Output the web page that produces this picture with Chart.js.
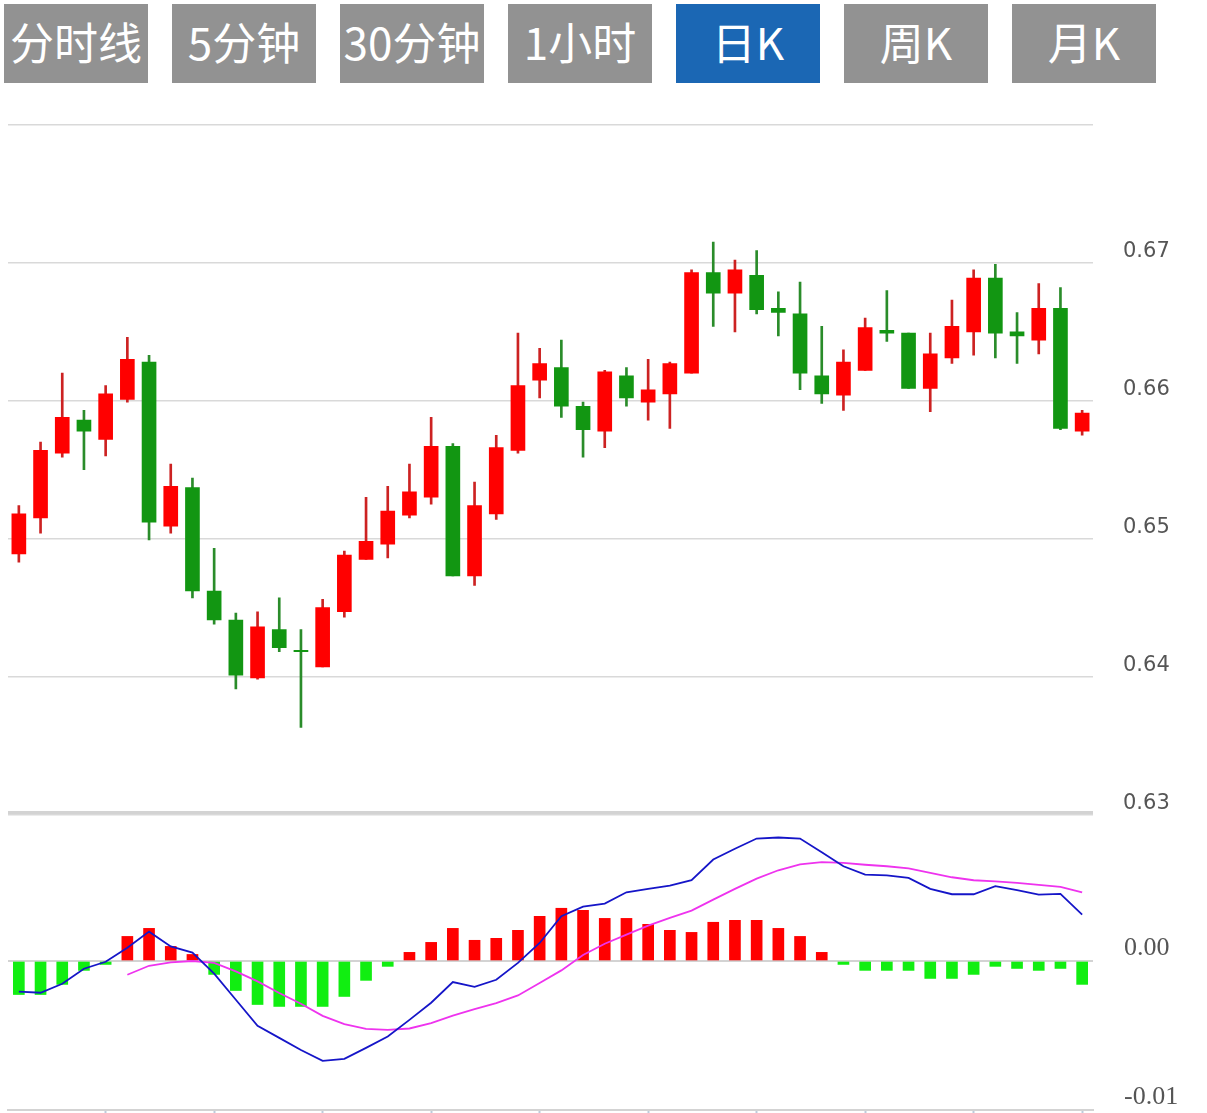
<!DOCTYPE html>
<html>
<head>
<meta charset="utf-8">
<script src="https://cdn.jsdelivr.net/npm/chart.js@4.4.1/dist/chart.umd.min.js"></script>
<style>
    body {
        margin: 0;
        background: #fff;
        width: 1207px;
        height: 1113px;
        overflow: hidden;
        position: relative;
        font-family: "Noto Sans CJK SC", sans-serif;
    }
    .tab {
        position: absolute;
        top: 4px;
        width: 144px;
        height: 79px;
        background: #929292;
        color: #fff;
        font-size: 44px;
        display: flex;
        align-items: center;
        justify-content: center;
        box-sizing: border-box;
        padding-bottom: 5px;
    }
    .tab.active {
        background: #1b67b4;
    }
    #kline-box {
        position: absolute;
        left: 0;
        top: 102px;
        width: 1207px;
        height: 725px;
    }
    #macd-box {
        position: absolute;
        left: 0;
        top: 790px;
        width: 1207px;
        height: 340px;
    }
</style>
</head>
<body>
<div class="tab" style="left:4px">分时线</div>
<div class="tab" style="left:172px">5分钟</div>
<div class="tab" style="left:340px">30分钟</div>
<div class="tab" style="left:508px">1小时</div>
<div class="tab active" style="left:676px">日K</div>
<div class="tab" style="left:844px">周K</div>
<div class="tab" style="left:1012px">月K</div>

<div id="kline-box"><canvas id="kline"></canvas></div>
<div id="macd-box"><canvas id="macd"></canvas></div>

<script>
    // daily candles, oldest first
    const opens = [0.6489, 0.6515, 0.6562, 0.6586, 0.6572, 0.6601, 0.6628, 0.6509, 0.6537, 0.6462,
        0.6441, 0.6399, 0.6434, 0.6419, 0.6407, 0.6447, 0.6485, 0.6496, 0.6517, 0.6530,
        0.6567, 0.6473, 0.6518, 0.6564, 0.6615, 0.6624, 0.6596, 0.6578, 0.6618, 0.6599,
        0.6605, 0.6620, 0.6693, 0.6678, 0.6691, 0.6667, 0.6663, 0.6618, 0.6604, 0.6622,
        0.6651, 0.6649, 0.6609, 0.6631, 0.6650, 0.6689, 0.6650, 0.6644, 0.6667, 0.6578];
    const closes = [0.6518, 0.6564, 0.6588, 0.6578, 0.6605, 0.6630, 0.6512, 0.6538, 0.6462, 0.6441,
        0.6401, 0.6436, 0.6421, 0.6418, 0.6450, 0.6488, 0.6498, 0.6520, 0.6534, 0.6567,
        0.6473, 0.6524, 0.6566, 0.6611, 0.6627, 0.6596, 0.6579, 0.6621, 0.6602, 0.6608,
        0.6627, 0.6693, 0.6678, 0.6695, 0.6666, 0.6664, 0.6620, 0.6605, 0.6628, 0.6653,
        0.6649, 0.6609, 0.6634, 0.6654, 0.6689, 0.6649, 0.6647, 0.6667, 0.6580, 0.6591];
    const highs = [0.6524, 0.6570, 0.6620, 0.6593, 0.6611, 0.6646, 0.6633, 0.6554, 0.6544, 0.6493,
        0.6446, 0.6447, 0.6457, 0.6434, 0.6456, 0.6491, 0.6530, 0.6538, 0.6554, 0.6588,
        0.6569, 0.6541, 0.6575, 0.6649, 0.6638, 0.6644, 0.6599, 0.6622, 0.6624, 0.6630,
        0.6628, 0.6695, 0.6715, 0.6702, 0.6709, 0.6679, 0.6686, 0.6654, 0.6637, 0.6660,
        0.6680, 0.6649, 0.6649, 0.6673, 0.6695, 0.6699, 0.6664, 0.6685, 0.6682, 0.6593];
    const lows = [0.6483, 0.6504, 0.6559, 0.6550, 0.6560, 0.6599, 0.6499, 0.6504, 0.6457, 0.6438,
        0.6391, 0.6398, 0.6418, 0.6363, 0.6407, 0.6443, 0.6485, 0.6486, 0.6515, 0.6525,
        0.6473, 0.6466, 0.6514, 0.6562, 0.6602, 0.6588, 0.6559, 0.6566, 0.6596, 0.6586,
        0.6580, 0.6620, 0.6654, 0.6650, 0.6663, 0.6647, 0.6608, 0.6598, 0.6593, 0.6622,
        0.6643, 0.6609, 0.6592, 0.6627, 0.6633, 0.6631, 0.6627, 0.6634, 0.6579, 0.6575];

    // MACD
    const hist = [-0.00225, -0.00225, -0.00157, -0.00063, -0.00023, 0.00165, 0.00219, 0.00098, 0.00044, -0.00090,
        -0.00198, -0.00292, -0.00305, -0.00305, -0.00305, -0.00238, -0.00130, -0.00036, 0.00058, 0.00125,
        0.00219, 0.00139, 0.00152, 0.00206, 0.00300, 0.00354, 0.00340, 0.00286, 0.00286, 0.00246,
        0.00206, 0.00192, 0.00260, 0.00273, 0.00273, 0.00219, 0.00165, 0.00058, -0.00023, -0.00063,
        -0.00063, -0.00063, -0.00117, -0.00117, -0.00090, -0.00036, -0.00050, -0.00063, -0.00050, -0.00157];
    const dif = [-0.00206, -0.00213, -0.00153, -0.00052, -0.00005, 0.00089, 0.00197, 0.00098, 0.00056, -0.00085,
        -0.00260, -0.00435, -0.00516, -0.00597, -0.00670, -0.00657, -0.00583, -0.00507, -0.00395, -0.00280,
        -0.00141, -0.00173, -0.00126, -0.00013, 0.00121, 0.00300, 0.00365, 0.00385, 0.00461, 0.00484,
        0.00506, 0.00542, 0.00681, 0.00753, 0.00822, 0.00829, 0.00822, 0.00730, 0.00636, 0.00580,
        0.00574, 0.00558, 0.00484, 0.00448, 0.00448, 0.00502, 0.00475, 0.00446, 0.00451, 0.00311];
    const dea = [null, null, null, null, null, -0.00092, -0.00032, -0.00009, 0.00000, -0.00013,
        -0.00070, -0.00137, -0.00215, -0.00287, -0.00368, -0.00424, -0.00455, -0.00462, -0.00453, -0.00417,
        -0.00366, -0.00323, -0.00282, -0.00231, -0.00148, -0.00063, 0.00040, 0.00116, 0.00177, 0.00237,
        0.00289, 0.00338, 0.00412, 0.00484, 0.00553, 0.00609, 0.00648, 0.00663, 0.00659, 0.00646,
        0.00636, 0.00621, 0.00592, 0.00562, 0.00542, 0.00535, 0.00525, 0.00511, 0.00498, 0.00461];

    const days = opens.map((o, i) => 'D' + (i + 1));

    const upColor = '#ff0000';
    const downColor = '#129612';
    const upWick = '#cc2222';
    const downWick = '#2a8c2a';

    const rightAxisWidth = function (scale) {
        scale.width = 114;
    };

    const bodyColors = opens.map((o, i) => closes[i] >= o ? upColor : downColor);
    const wickColors = opens.map((o, i) => closes[i] >= o ? upWick : downWick);

    new Chart(document.getElementById('kline'), {
        type: 'bar',
        data: {
            labels: days,
            datasets: [{
                data: opens.map((o, i) => [o, closes[i]]),
                backgroundColor: bodyColors,
                barThickness: 14,
                grouped: false,
                order: 0
            }, {
                data: lows.map((l, i) => [l, highs[i]]),
                backgroundColor: wickColors,
                barThickness: 2,
                grouped: false,
                order: 1
            }]
        },
        options: {
            responsive: true,
            maintainAspectRatio: false,
            animation: false,
            layout: {padding: {left: 8, top: 23, bottom: 12, right: 0}},
            plugins: {legend: {display: false}, tooltip: {enabled: false}},
            scales: {
                x: {display: false, offset: true},
                y: {
                    position: 'right',
                    min: 0.63,
                    max: 0.68,
                    ticks: {
                        stepSize: 0.01,
                        padding: 0,
                        labelOffset: -11,
                        crossAlign: 'near',
                        color: '#555',
                        font: {family: 'DejaVu Sans', size: 21},
                        callback: v => v > 0.675 ? '' : v.toFixed(2)
                    },
                    grid: {color: '#d9d9d9', lineWidth: 1.5, tickLength: 30, tickColor: 'rgba(0,0,0,0)'},
                    border: {display: false},
                    afterFit: rightAxisWidth
                }
            }
        }
    });

    new Chart(document.getElementById('macd'), {
        type: 'bar',
        data: {
            labels: days,
            datasets: [{
                type: 'line',
                data: dif,
                borderColor: '#1515c8',
                borderWidth: 1.8,
                pointRadius: 0,
                order: 0
            }, {
                type: 'line',
                data: dea,
                borderColor: '#ee33ee',
                borderWidth: 1.8,
                pointRadius: 0,
                order: 0
            }, {
                type: 'bar',
                data: hist,
                backgroundColor: hist.map(v => v >= 0 ? '#ff0000' : '#11ee11'),
                barThickness: 11,
                order: 1
            }]
        },
        options: {
            responsive: true,
            maintainAspectRatio: false,
            animation: false,
            layout: {padding: {left: 8, top: 22, bottom: 0, right: 0}},
            plugins: {legend: {display: false}, tooltip: {enabled: false}},
            scales: {
                x: {
                    offset: true,
                    grid: {
                        offset: false,
                        drawOnChartArea: false,
                        tickLength: 10,
                        tickWidth: 2,
                        tickColor: ctx => ctx.index % 5 === 4 ? '#bccbdb' : 'rgba(0,0,0,0)'
                    },
                    ticks: {display: false},
                    border: {color: '#d3d3d3', width: 2},
                    afterFit: function (scale) {
                        scale.height = 20;
                    }
                },
                y: {
                    position: 'right',
                    min: -0.01,
                    max: 0.01,
                    ticks: {
                        stepSize: 0.01,
                        padding: 0,
                        labelOffset: -13,
                        crossAlign: 'near',
                        color: '#555',
                        font: {family: 'Liberation Serif', size: 26},
                        callback: v => v > 0.005 ? '' : v.toFixed(2)
                    },
                    grid: {
                        color: ctx => ctx.tick.value < -0.005 ? 'rgba(0,0,0,0)' : '#d3d3d3',
                        lineWidth: ctx => ctx.tick.value > 0.005 ? 3 : 2,
                        tickLength: 31,
                        tickColor: 'rgba(0,0,0,0)'
                    },
                    border: {display: false},
                    afterFit: rightAxisWidth
                }
            }
        }
    });
</script>
</body>
</html>
